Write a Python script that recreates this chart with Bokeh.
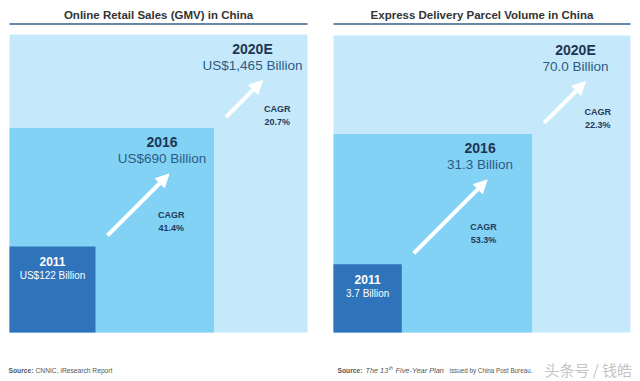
import math
from bokeh.plotting import figure
from bokeh.models import Range1d, ColumnDataSource, Arrow, NormalHead
from bokeh.core.properties import value
from bokeh.embed import file_html
from bokeh.resources import INLINE

# ---------------- data ----------------
gmv_title = "Online Retail Sales (GMV) in China"
gmv_years = ["2011", "2016", "2020E"]
gmv_values = [122, 690, 1465]
gmv_labels = ["US$122 Billion", "US$690 Billion", "US$1,465 Billion"]
gmv_cagr = ["41.4%", "20.7%"]

parcel_title = "Express Delivery Parcel Volume in China"
parcel_years = ["2011", "2016", "2020E"]
parcel_values = [3.7, 31.3, 70.0]
parcel_labels = ["3.7 Billion", "31.3 Billion", "70.0 Billion"]
parcel_cagr = ["53.3%", "22.3%"]

box_colors = ["#2f73ba", "#82d2f6", "#c5e9fb"]

FONT = value("Liberation Sans")

W, H = 640, 380
p = figure(width=W, height=H, output_backend="svg", toolbar_location=None,
           x_range=Range1d(0, W), y_range=Range1d(H, 0),
           x_axis_location=None, y_axis_location=None,
           min_border=0, min_border_left=0, min_border_right=0,
           min_border_top=0, min_border_bottom=0)
p.grid.visible = False
p.outline_line_color = None
p.background_fill_color = "white"
p.border_fill_color = "white"


def txt(x, y, s, size, color, style="normal", align="center", font=FONT):
    p.text(x=[x], y=[y], text=[s], text_font=font, text_font_size=f"{size}px",
           text_font_style=style, text_color=color, text_align=align,
           text_baseline="middle")


def panel(x0, bottom, full, title, years, values, labels, cagr):
    vmax = max(values)
    sides = [full * math.sqrt(v / vmax) for v in values]
    order = sorted(range(len(values)), key=lambda i: -values[i])
    src = ColumnDataSource(dict(
        left=[x0] * len(order),
        right=[x0 + sides[i] for i in order],
        top=[bottom - sides[i] for i in order],
        bottom=[bottom] * len(order),
        color=[box_colors[i] for i in order]))
    p.quad(left="left", right="right", top="top", bottom="bottom",
           fill_color="color", line_color=None, source=src)

    # title and rule
    txt(x0 + full / 2, 14, title, 11.5, "#333333", "bold")
    p.segment(x0=[x0], x1=[x0 + full], y0=[23.5], y1=[23.5],
              line_color="#345f88", line_width=1.6)

    rights = [x0 + s for s in sides]
    tops = [bottom - s for s in sides]

    # smallest box labels (white)
    txt(x0 + sides[0] / 2, tops[0] + 15, years[0], 12, "white", "bold")
    txt(x0 + sides[0] / 2, tops[0] + 29, labels[0], 10, "white")
    # other labels
    for i in range(1, len(values)):
        cx = rights[i] - (52 if i < len(values) - 1 else 55)
        txt(cx, tops[i] + 14, years[i], 14, "#1f3552", "bold")
        txt(cx, tops[i] + 31, labels[i], 13.5, "#2d5b84")

    # arrows + CAGR
    xs0, ys0, xs1, ys1 = [], [], [], []
    for i in range(len(values) - 1):
        tx, ty = rights[i] + 12, tops[i] - 11
        hy = tops[i + 1] + 46
        hx = tx + (ty - hy)
        xs0.append(tx); ys0.append(ty); xs1.append(hx); ys1.append(hy)
        mx, my = (tx + hx) / 2, (ty + hy) / 2
        txt(mx + 33, my + 10, "CAGR", 9, "#1f3a5c", "bold")
        txt(mx + 33, my + 23, cagr[i], 9, "#1f3a5c", "bold")
    asrc = ColumnDataSource(dict(x0=xs0, y0=ys0, x1=xs1, y1=ys1))
    p.add_layout(Arrow(end=NormalHead(size=13, fill_color="white",
                                      line_color="white", line_width=1),
                       source=asrc, x_start="x0", y_start="y0",
                       x_end="x1", y_end="y1",
                       line_color="white", line_width=4))


panel(9, 332, 298, gmv_title, gmv_years, gmv_values, gmv_labels, gmv_cagr)
panel(333, 332, 297, parcel_title, parcel_years, parcel_values, parcel_labels, parcel_cagr)

# sources
src_col = "#555555"
txt(8, 370, "Source:", 6.7, src_col, "bold", "left")
txt(35, 370, "CNNIC, iResearch Report", 6.7, src_col, "normal", "left")
txt(337, 370, "Source:", 6.7, src_col, "bold", "left")
txt(365, 370, "The 13", 7.3, src_col, "italic", "left")
txt(388.5, 367.5, "th", 4.5, src_col, "italic", "left")
txt(395, 370, "Five-Year Plan", 7.4, src_col, "italic", "left")
txt(449, 370, "issued by China Post Bureau.", 6.3, src_col, "normal", "left")

# watermark
txt(544, 369, "头条号 / 钱皓", 15, "#c4c4c4", "normal", "left",
    font=value("Noto Sans CJK SC"))

open("out.html", "w").write(file_html(p, INLINE))
